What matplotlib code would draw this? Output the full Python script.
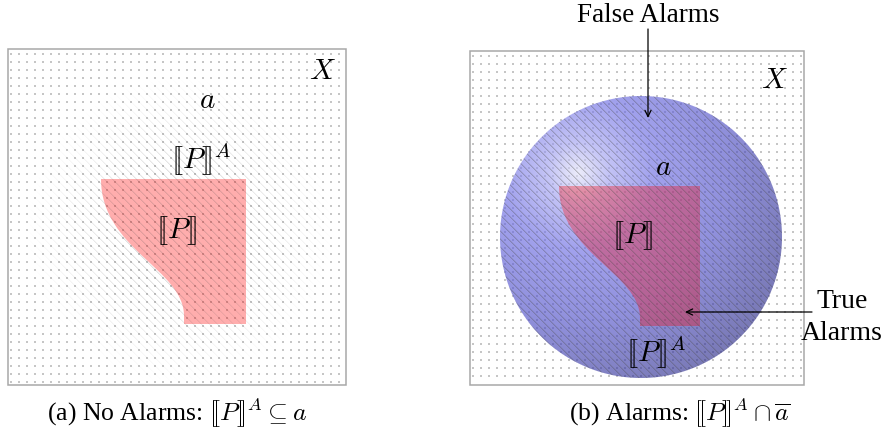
import numpy as np
import matplotlib
matplotlib.use("Agg")
import matplotlib.pyplot as plt
from matplotlib.path import Path
from matplotlib.patches import PathPatch, Rectangle

plt.rcParams['font.family'] = ['Liberation Serif', 'DejaVu Serif']
plt.rcParams['mathtext.fontset'] = 'cm'

W, H = 886, 437

# universe boxes X: (left, top, right, bottom) in pixels
box_a = (8, 49, 346, 385)
box_b = (470, 51, 804, 385)
grid_step = 8

# alarm region a in panel (b): a shaded ball
ball_center = (641, 237)
ball_radius = 141
ball_highlight = (578, 173)

# fuzzy over-approximation [[P]]^A in panel (a)
fuzz_center = (180, 230)
fuzz_inner, fuzz_outer = 55, 155

# [[P]]: top-left corner, width, height, x of the bottom-left corner
p_a = dict(x=101, y=179, w=145, h=145, neck=83)
p_b = dict(x=559, y=186, w=141, h=140, neck=81)

# ball shading ramp: distance from highlight -> composite colour over white
ramp_d = [0, 30, 75, 150, 235]
ramp_rgb = ["#ececfa", "#c4c4f6", "#a2a2ee", "#9090dc", "#7878b4"]
ball_alpha = 0.62

pink = (1.0, 0.0, 0.0)
pink_alpha = 0.32

captions = [r"(a) No Alarms: $[\![P]\!]^A \subseteq a$",
            r"(b) Alarms: $[\![P]\!]^A \cap \overline{a}$"]


def p_path(p):
    x, y, w, h, n = p["x"], p["y"], p["w"], p["h"], p["neck"]
    sy = h / 145.0
    verts = [(x, y), (x + w, y), (x + w, y + h), (x + n, y + h),
             (x + n, y + h - 8 * sy),
             (x + n, y + 90 * sy), (x, y + 70 * sy), (x, y),
             (x, y)]
    codes = [Path.MOVETO, Path.LINETO, Path.LINETO, Path.LINETO, Path.LINETO,
             Path.CURVE4, Path.CURVE4, Path.CURVE4, Path.CLOSEPOLY]
    return Path(verts, codes)


def hex_rgb(c):
    c = c.lstrip('#')
    return np.array([int(c[i:i + 2], 16) / 255 for i in (0, 2, 4)])


def pixel_grid(x0, y0, x1, y1):
    xs = np.arange(x0, x1) + 0.5
    ys = np.arange(y0, y1) + 0.5
    return np.meshgrid(xs, ys)


def hatch_rgba(x0, y0, x1, y1, weight, strength, phase=5.3):
    X, Y = pixel_grid(x0, y0, x1, y1)
    u = np.mod(X - Y - phase, grid_step)
    u = np.minimum(u, grid_step - u) / np.sqrt(2)
    line = np.clip(1.0 - u / 0.75, 0, 1)
    img = np.zeros(X.shape + (4,))
    img[..., :3] = 0.3
    img[..., 3] = strength * line * weight(X, Y)
    return img


fig = plt.figure(figsize=(W / 100, H / 100), dpi=100)
ax = fig.add_axes([0, 0, 1, 1])
ax.set_xlim(0, W)
ax.set_ylim(H, 0)
ax.axis('off')

# dotted background of both universes
for (l, t, r, b) in (box_a, box_b):
    gx = np.arange(l + 3.5, r - 2, grid_step)
    gy = np.arange(t + 5.0, b - 2, grid_step)
    GX, GY = np.meshgrid(gx, gy)
    ax.scatter(GX.ravel(), GY.ravel(), s=1.7, marker='s', color='#c6c6c6',
               linewidths=0, zorder=1)

# ---- panel (b): shaded ball for a
cx, cy = ball_center
R = ball_radius
bx0, by0 = int(cx - R - 2), int(cy - R - 2)
bx1, by1 = int(cx + R + 3), int(cy + R + 3)
X, Y = pixel_grid(bx0, by0, bx1, by1)
d = np.hypot(X - ball_highlight[0], Y - ball_highlight[1])
target = np.stack([np.interp(d, ramp_d, [hex_rgb(c)[k] for c in ramp_rgb])
                   for k in range(3)], axis=-1)
base = np.clip((target - (1 - ball_alpha)) / ball_alpha, 0, 1)
edge = np.clip(R - np.hypot(X - cx, Y - cy) + 0.5, 0, 1)
ball = np.dstack([base, ball_alpha * edge])
ax.imshow(ball, extent=(bx0, bx1, by1, by0), interpolation='nearest', zorder=2)

# [[P]] in both panels
for p in (p_a, p_b):
    ax.add_patch(PathPatch(p_path(p), facecolor=pink, alpha=pink_alpha,
                           edgecolor='none', zorder=3))

# diagonal hatching: inside the ball in (b), fuzzy disc in (a)
h_b = hatch_rgba(bx0, by0, bx1, by1,
                 lambda X, Y: np.clip(R - np.hypot(X - cx, Y - cy) + 0.5, 0, 1),
                 0.45)
ax.imshow(h_b, extent=(bx0, bx1, by1, by0), interpolation='nearest', zorder=4)

fx, fy = fuzz_center
l, t, r, b = box_a
h_a = hatch_rgba(l + 1, t + 1, r - 1, b - 1,
                 lambda X, Y: np.clip((fuzz_outer - np.hypot(X - fx, Y - fy))
                                      / (fuzz_outer - fuzz_inner), 0, 1),
                 0.24)
ax.imshow(h_a, extent=(l + 1, r - 1, b - 1, t + 1), interpolation='nearest',
          zorder=4)

# universe frames
for (l, t, r, b) in (box_a, box_b):
    ax.add_patch(Rectangle((l, t), r - l, b - t, facecolor='none',
                           edgecolor='#a8a8a8', lw=1.1, zorder=5))

# labels
lab = dict(ha='center', va='center', fontsize=21, zorder=6, color='black')
ax.text(322, 72, r"$X$", **lab)
ax.text(207, 101, r"$a$", **lab)
ax.text(201, 160, r"$[\![P]\!]^A$", **lab)
ax.text(177, 231, r"$[\![P]\!]$", **lab)

ax.text(774, 81, r"$X$", **lab)
ax.text(663, 168, r"$a$", **lab)
ax.text(633, 236, r"$[\![P]\!]$", **lab)
ax.text(656, 353, r"$[\![P]\!]^A$", **lab)

# annotations
arrow = dict(arrowstyle='->,head_length=0.45,head_width=0.22', lw=0.9,
             color='black', shrinkA=0, shrinkB=0)
ax.text(648, 15, "False Alarms", ha='center', va='center', fontsize=19.5,
        zorder=6)
ax.annotate('', xy=(648, 118), xytext=(648, 29), arrowprops=arrow, zorder=6)
ax.text(842, 301, "True", ha='center', va='center', fontsize=20, zorder=6)
ax.text(842, 334, "Alarms", ha='center', va='center', fontsize=20, zorder=6)
ax.annotate('', xy=(685, 312), xytext=(812, 312), arrowprops=arrow, zorder=6)

# captions
ax.text(177, 413, captions[0], ha='center', va='center', fontsize=18.5)
ax.text(680, 413, captions[1], ha='center', va='center', fontsize=18.5)

fig.savefig("out.png", dpi=100)
